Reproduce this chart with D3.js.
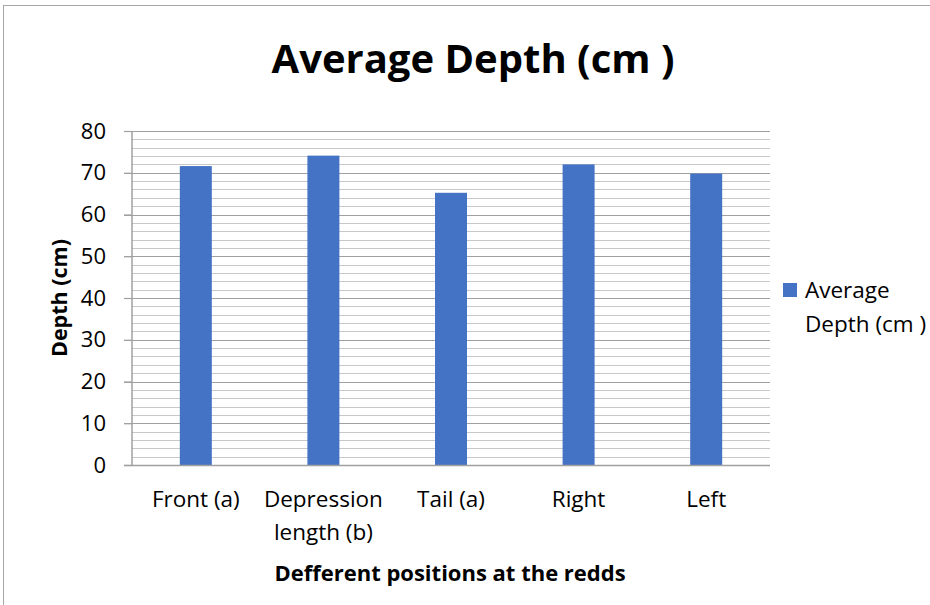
<!DOCTYPE html>
<html><head><meta charset="utf-8">
<script src="https://cdn.jsdelivr.net/npm/d3@7"></script>
<style>body{margin:0;background:#fff;} svg{display:block;font-family:"Open Sans",Calibri,sans-serif;}</style>
</head><body>
<svg id="c" width="930" height="605"></svg>
<script>
const categories = [["Front (a)"], ["Depression", "length (b)"], ["Tail (a)"], ["Right"], ["Left"]];
const values = [71.6, 74.1, 65.2, 72.0, 69.8];
const yTicks = [0, 10, 20, 30, 40, 50, 60, 70, 80];
const seriesName = ["Average", "Depth (cm )"];
const title = "Average Depth (cm )";
const xTitle = "Defferent positions at the redds";
const yTitle = "Depth (cm)";

const svg = d3.select("#c");
svg.append("rect").attr("x",3.5).attr("y",5.5).attr("width",940).attr("height",620)
  .attr("fill","#fff").attr("stroke","#a6a6a6").attr("stroke-width",1);

const pL = 132, pR = 770, pT = 131, pB = 465;
const x = d3.scaleBand().domain(d3.range(categories.length)).range([pL, pR]).paddingInner(0).paddingOuter(0);
const y = d3.scaleLinear().domain([0, 80]).range([pB, pT]);

// minor gridlines
const minor = d3.range(0, 81, 2).filter(v => v % 10 !== 0);
svg.append("g").selectAll("line").data(minor).join("line")
  .attr("x1", pL).attr("x2", pR)
  .attr("y1", d => Math.round(y(d)) + 0.5).attr("y2", d => Math.round(y(d)) + 0.5)
  .attr("stroke", "#c8c8c8").attr("stroke-width", 1);
// major gridlines
svg.append("g").selectAll("line").data(yTicks.filter(v => v > 0)).join("line")
  .attr("x1", pL - 8).attr("x2", pR)
  .attr("y1", d => Math.round(y(d)) + 0.5).attr("y2", d => Math.round(y(d)) + 0.5)
  .attr("stroke", "#a0a0a0").attr("stroke-width", 1.2);

// bars
const bw = 32;
svg.append("g").selectAll("rect").data(values).join("rect")
  .attr("x", (d, i) => x(i) + x.bandwidth() / 2 - bw / 2)
  .attr("y", d => y(d)).attr("width", bw).attr("height", d => pB - y(d))
  .attr("fill", "#4472c4");

// y axis
const yAxis = d3.axisLeft(y).tickValues(yTicks).tickSize(8).tickPadding(18).tickFormat(d3.format("d"));
const gy = svg.append("g").attr("transform", `translate(${pL},0)`).call(yAxis);
gy.select(".domain").attr("stroke", "#a0a0a0").attr("stroke-width", 1.5).attr("d", `M0,${pT}V${pB}`);
gy.selectAll(".tick line").attr("stroke", "#a0a0a0").attr("stroke-width", 1.2);
gy.selectAll(".tick text").attr("font-size", 22).attr("fill", "#000").attr("font-family", "'Open Sans',sans-serif");

// x axis baseline
svg.append("line").attr("x1", pL - 8).attr("x2", pR).attr("y1", pB + 0.5).attr("y2", pB + 0.5)
  .attr("stroke", "#a0a0a0").attr("stroke-width", 1.5);

// x labels
const xl = svg.append("g");
categories.forEach((lines, i) => {
  const t = xl.append("text").attr("x", x(i) + x.bandwidth() / 2).attr("y", 507)
    .attr("text-anchor", "middle").attr("font-size", 22.5).attr("fill", "#000");
  lines.forEach((s, j) => t.append("tspan").attr("x", x(i) + x.bandwidth() / 2).attr("dy", j === 0 ? 0 : 33).text(s));
});

// title
svg.append("text").attr("x", 473).attr("y", 73).attr("text-anchor", "middle")
  .attr("font-size", 40).attr("font-weight", "bold").attr("fill", "#000").text(title);
// axis titles
svg.append("text").attr("x", 450).attr("y", 581).attr("text-anchor", "middle")
  .attr("font-size", 22).attr("font-weight", "bold").attr("fill", "#000").text(xTitle);
svg.append("text").attr("transform", `translate(67,${(pT + pB) / 2}) rotate(-90)`).attr("text-anchor", "middle")
  .attr("font-size", 21.5).attr("font-weight", "bold").attr("fill", "#000").text(yTitle);

// legend
svg.append("rect").attr("x", 783).attr("y", 283).attr("width", 14).attr("height", 14).attr("fill", "#4472c4");
const lt = svg.append("text").attr("x", 805).attr("y", 298).attr("font-size", 22.5).attr("fill", "#000");
seriesName.forEach((s, j) => lt.append("tspan").attr("x", 805).attr("dy", j === 0 ? 0 : 34).text(s));
</script>
</body></html>
